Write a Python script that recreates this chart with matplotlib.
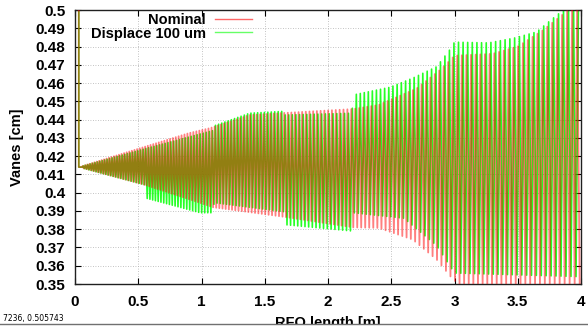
import matplotlib
matplotlib.use("Agg")
import matplotlib.pyplot as plt
from matplotlib.lines import Line2D
from matplotlib.patches import Rectangle
import numpy as np

font = "Liberation Sans"
plt.rcParams["font.family"] = [font, "DejaVu Sans"]

# envelope of the vane modulation (x in m, y in cm)
nom_up_x = [0.03, 0.9, 1.07, 1.38, 1.64, 2.2, 2.4, 2.7, 2.9, 3.0, 3.3, 3.5, 3.7, 3.9, 4.0]
nom_up_y = [0.414, 0.4326, 0.4354, 0.4425, 0.4436, 0.4458, 0.448, 0.457, 0.468, 0.475,
            0.476, 0.480, 0.489, 0.500, 0.505]
nom_lo_x = [0.03, 0.55, 0.99, 1.09, 1.67, 2.2, 2.4, 2.67, 2.86, 2.99, 3.05, 4.0]
nom_lo_y = [0.414, 0.4043, 0.3944, 0.392, 0.3866, 0.381, 0.3807, 0.3743, 0.3633, 0.3523,
            0.3495, 0.3495]

dis_up_x = [0.03, 0.55, 1.09, 1.1, 1.38, 1.64, 1.65, 2.19, 2.2, 2.49, 2.67, 2.86, 2.96,
            3.0, 3.27, 3.47, 3.65, 3.73, 3.86, 4.0]
dis_up_y = [0.414, 0.424, 0.434, 0.4366, 0.4435, 0.4445, 0.4425, 0.4435, 0.4535, 0.4577,
            0.4627, 0.469, 0.478, 0.4824, 0.482, 0.4846, 0.488, 0.4927, 0.500, 0.510]
dis_lo_x = [0.03, 0.55, 0.56, 0.99, 1.09, 1.1, 1.66, 1.67, 2.19, 2.2, 2.6, 2.86, 3.0, 4.0]
dis_lo_y = [0.414, 0.4043, 0.397, 0.389, 0.389, 0.3945, 0.3895, 0.3824, 0.379, 0.389,
            0.386, 0.371, 0.356, 0.354]

# half-cell length along the RFQ
cell_x = [0.0, 1.0, 2.0, 3.0, 4.0]
cell_dx = [0.009, 0.012, 0.015, 0.018, 0.02]

# entrance of the vanes (x, top of the first stroke)
nom_start = (0.03, 0.52)
dis_start = (0.03, 0.52)


def vane(up_x, up_y, lo_x, lo_y, start, z0):
    xs = [start[0], start[0], z0]
    ys = [start[1], up_y[0], up_y[0]]
    z = z0
    k = 0
    while z <= 4.0:
        xs.append(z)
        if k % 2 == 0:
            ys.append(np.interp(z, up_x, up_y))
        else:
            ys.append(np.interp(z, lo_x, lo_y))
        z += np.interp(z, cell_x, cell_dx)
        k += 1
    return xs, ys


fig = plt.figure(figsize=(5.88, 3.32), dpi=100)
ax = fig.add_axes([75/588, 48/332, 506/588, 274/332])

xr, yr = vane(nom_up_x, nom_up_y, nom_lo_x, nom_lo_y, nom_start, 0.06)
xg, yg = vane(dis_up_x, dis_up_y, dis_lo_x, dis_lo_y, dis_start, 0.065)
# green underneath, red half transparent on top gives the olive overlap
ax.plot(xg, yg, color="#00ff00", lw=1.2, alpha=0.85, zorder=2)
ax.plot(xr, yr, color="#ff0000", lw=1.3, alpha=0.5, zorder=3)

ax.set_xlim(0, 4)
ax.set_ylim(0.35, 0.5)
ax.set_xticks(np.arange(0, 4.01, 0.5))
ax.set_yticks(np.arange(0.35, 0.5001, 0.01))
ax.xaxis.set_major_formatter(plt.FormatStrFormatter("%g"))
ax.yaxis.set_major_formatter(plt.FuncFormatter(lambda v, p: "%g" % round(v, 2)))
ax.tick_params(direction="in", length=4, width=0.8, top=True, right=True,
               labelsize=11)
ax.tick_params(axis="x", pad=8)
ax.tick_params(axis="y", pad=7)
for t in ax.get_xticklabels() + ax.get_yticklabels():
    t.set_fontweight("bold")
ax.grid(True, color="#b0b0b0", linestyle=(0, (1, 2)), linewidth=0.6)
for s in ax.spines.values():
    s.set_linewidth(1.0)
    s.set_color("#202020")

ax.set_ylabel("Vanes [cm]", fontsize=10.5, fontweight="bold", labelpad=8)
ax.set_xlabel("RFQ length [m]", fontsize=10.5, fontweight="bold", labelpad=5)

# legend drawn by hand, text right aligned with sample on the right
fig.text(206/588, 1 - 20/332, "Nominal", ha="right", va="center",
         fontsize=10.5, fontweight="bold")
fig.text(206/588, 1 - 34/332, "Displace 100 um", ha="right", va="center",
         fontsize=10.5, fontweight="bold")
fig.add_artist(Line2D([215/588, 252/588], [1 - 19/332, 1 - 19/332],
                      transform=fig.transFigure, color="#ff0000", alpha=0.6, lw=1))
fig.add_artist(Line2D([215/588, 252/588], [1 - 32/332, 1 - 32/332],
                      transform=fig.transFigure, color="#00ff00", alpha=0.6, lw=1))

# status bar of the window cutting the x label
fig.patches.append(Rectangle((0, 0), 1, 8/332, transform=fig.transFigure,
                             facecolor="white", edgecolor="none", zorder=5))
fig.add_artist(Line2D([0, 1], [8/332, 8/332], transform=fig.transFigure,
                      color="#707070", lw=1, zorder=6))
fig.text(3/588, 1 - 318/332, "7236, 0.505743", ha="left", va="center",
         fontsize=5.5, family="DejaVu Sans", zorder=6)

fig.savefig("out.png", dpi=100)
